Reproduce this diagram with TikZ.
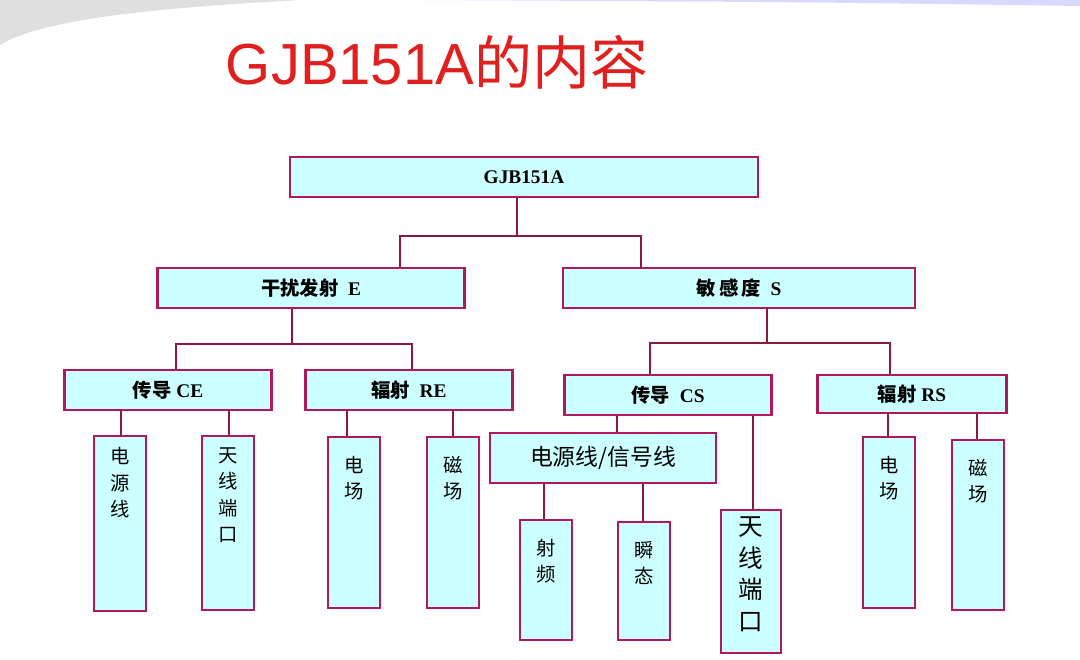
\documentclass[tikz,border=0pt]{standalone}
\usepackage{fontspec}
\setmainfont{Liberation Serif}
\newfontfamily\cjk{Noto Sans CJK SC}
\newfontfamily\titlefont{Liberation Sans}
\usetikzlibrary{positioning}
\definecolor{boxred}{HTML}{B0185A}
\definecolor{boxcyan}{HTML}{CCFFFF}
\definecolor{linkred}{HTML}{8B1A3A}
\definecolor{titlered}{HTML}{E0201E}
\tikzset{
  box/.style={draw=boxred,fill=boxcyan,line width=1.3pt,inner sep=0pt},
  hbox/.style={box,font=\bfseries\fontsize{11}{12}\selectfont},
  vbox/.style={box,minimum width=1.04cm},
  vtext/.style={anchor=north,align=center,inner sep=0pt,font=\cjk\fontsize{11}{15}\selectfont},
  link/.style={draw=linkred,line width=0.9pt}
}
\begin{document}
\begin{tikzpicture}[x=0.02cm,y=-0.02cm]
\useasboundingbox(0,0)rectangle(1080,660);
\fill[white](0,0)rectangle(1080,660);
\fill[gray!25](0,0)--(300,0)..controls(150,8)and(40,20)..(0,45)--cycle;
\fill[blue!15](420,0)--(1080,0)--(1080,6)..controls(800,2)..(420,0)--cycle;
\node[text=titlered,font=\titlefont\fontsize{33}{38}\selectfont](title)at(437,62){GJB151A{\cjk 的内容}};
% level 0,1
\node[hbox,minimum width=9.36cm,minimum height=0.8cm](g)at(524,177){GJB151A};
\node[hbox,minimum width=6.14cm,minimum height=0.8cm](e)at(311,288){{\cjk 干扰发射}\ \ E};
\node[hbox,minimum width=7.04cm,minimum height=0.8cm](s)at(739,288){{\cjk 敏\,感\,度}\ \ S};
% level 2
\node[hbox,minimum width=4.14cm,minimum height=0.8cm](ce)at(168,390){{\cjk 传导} CE};
\node[hbox,minimum width=4.14cm,minimum height=0.8cm](re)at(409,390){{\cjk 辐射}\ \ RE};
\node[hbox,minimum width=4.14cm,minimum height=0.8cm](cs)at(668,395){{\cjk 传导}\ \ CS};
\node[hbox,minimum width=3.78cm,minimum height=0.76cm](rs)at(912,394){{\cjk 辐射} RS};
% leaves
\node[vbox,minimum height=3.5cm](ce1)at(120,523.5){};
\node[vtext]at([yshift=-0.25cm]ce1.north){电\\源\\线};
\node[vbox,minimum height=3.48cm](ce2)at(228,523){};
\node[vtext]at([yshift=-0.25cm]ce2.north){天\\线\\端\\口};
\node[vbox,minimum height=3.42cm](re1)at(354,522.5){};
\node[vtext]at([yshift=-0.4cm]re1.north){电\\场};
\node[vbox,minimum height=3.42cm](re2)at(453,522.5){};
\node[vtext]at([yshift=-0.4cm]re2.north){磁\\场};
\node[box,minimum width=4.52cm,minimum height=1cm,font=\cjk\fontsize{13}{15}\selectfont](cs1)at(603,458){电源线/信号线};
\node[vbox,minimum width=1.2cm,minimum height=2.86cm](cs2)at(751,581.5){};
\node[vtext,font=\cjk\fontsize{14}{18}\selectfont]at([yshift=-0.15cm]cs2.north){天\\线\\端\\口};
\node[vbox,minimum height=2.4cm](rf)at(546,580){};
\node[vtext]at([yshift=-0.4cm]rf.north){射\\频};
\node[vbox,minimum height=2.36cm](tr)at(644,581){};
\node[vtext]at([yshift=-0.4cm]tr.north){瞬\\态};
\node[vbox,minimum height=3.42cm](rs1)at(889,522.5){};
\node[vtext]at([yshift=-0.4cm]rs1.north){电\\场};
\node[vbox,minimum height=3.4cm](rs2)at(978,525){};
\node[vtext]at([yshift=-0.4cm]rs2.north){磁\\场};
% connectors
\draw[link](517,0|-g.south)--(517,236)--(400,236)--(400,0|-e.north);
\draw[link](400,236)--(641,236)--(641,0|-s.north);
\draw[link](292,0|-e.south)--(292,344)--(176,344)--(176,0|-ce.north);
\draw[link](292,344)--(412,344)--(412,0|-re.north);
\draw[link](767,0|-s.south)--(767,343)--(650,343)--(650,0|-cs.north);
\draw[link](767,343)--(890,343)--(890,0|-rs.north);
\draw[link](121,0|-ce.south)--(121,0|-ce1.north);
\draw[link](229,0|-ce.south)--(229,0|-ce2.north);
\draw[link](347,0|-re.south)--(347,0|-re1.north);
\draw[link](453,0|-re.south)--(453,0|-re2.north);
\draw[link](617,0|-cs.south)--(617,0|-cs1.north);
\draw[link](753,0|-cs.south)--(753,0|-cs2.north);
\draw[link](544,0|-cs1.south)--(544,0|-rf.north);
\draw[link](643,0|-cs1.south)--(643,0|-tr.north);
\draw[link](888,0|-rs.south)--(888,0|-rs1.north);
\draw[link](977,0|-rs.south)--(977,0|-rs2.north);
\end{tikzpicture}
\end{document}
